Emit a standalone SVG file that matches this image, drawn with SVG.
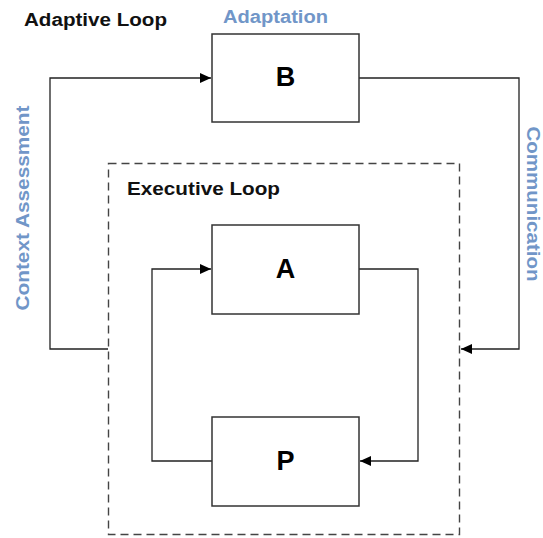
<svg xmlns="http://www.w3.org/2000/svg" width="543" height="538" viewBox="0 0 543 538">
<style>
.box{fill:#fff;stroke:#333;stroke-width:1.5}
.conn{fill:none;stroke:#222;stroke-width:1.3}
.lbl{font-family:"Liberation Sans",Arial,sans-serif;font-weight:bold;fill:#111}
.blue{font-family:"Liberation Sans",Arial,sans-serif;font-weight:bold;fill:#7196c8;font-size:18px}
.big{font-family:"Liberation Sans",Arial,sans-serif;font-weight:bold;font-size:27px;fill:#000;text-anchor:middle}
</style>
<defs>
<marker id="arr" markerWidth="12" markerHeight="10" refX="11" refY="5" orient="auto" markerUnits="userSpaceOnUse">
<path d="M0,0 L11,5 L0,10 Z" fill="#000"/>
</marker>
</defs>
<rect width="543" height="538" fill="#fff"/>
<g id="executive-loop">
<rect x="108.5" y="163.5" width="351" height="371" fill="none" stroke="#444" stroke-width="1.4" stroke-dasharray="8,5"/>
<text class="lbl" x="127" y="195" font-size="18" textLength="153" lengthAdjust="spacingAndGlyphs">Executive Loop</text>
</g>
<g id="adaptive-loop-label">
<text class="lbl" x="24" y="26" font-size="18" textLength="143" lengthAdjust="spacingAndGlyphs">Adaptive Loop</text>
</g>
<g id="connectors">
<polyline class="conn" points="108,349 50,349 50,78 211,78" marker-end="url(#arr)"/>
<polyline class="conn" points="359,78 519,78 519,349 461,349" marker-end="url(#arr)"/>
<polyline class="conn" points="359,269 418,269 418,461 360,461" marker-end="url(#arr)"/>
<polyline class="conn" points="212,461 152,461 152,269 211,269" marker-end="url(#arr)"/>
<text class="blue" x="223" y="23" textLength="105" lengthAdjust="spacingAndGlyphs">Adaptation</text>
<text class="blue" transform="translate(29,208) rotate(-90)" text-anchor="middle" textLength="205" lengthAdjust="spacingAndGlyphs">Context Assessment</text>
<text class="blue" transform="translate(527,204) rotate(90)" text-anchor="middle" textLength="155" lengthAdjust="spacingAndGlyphs">Communication</text>
</g>
<g id="node-B">
<rect class="box" x="212" y="34" width="147" height="88"/>
<text class="big" x="285.5" y="86">B</text>
</g>
<g id="node-A">
<rect class="box" x="212" y="225" width="147" height="89"/>
<text class="big" x="285.5" y="278">A</text>
</g>
<g id="node-P">
<rect class="box" x="212" y="417" width="147" height="89"/>
<text class="big" x="285.5" y="470">P</text>
</g>
</svg>
